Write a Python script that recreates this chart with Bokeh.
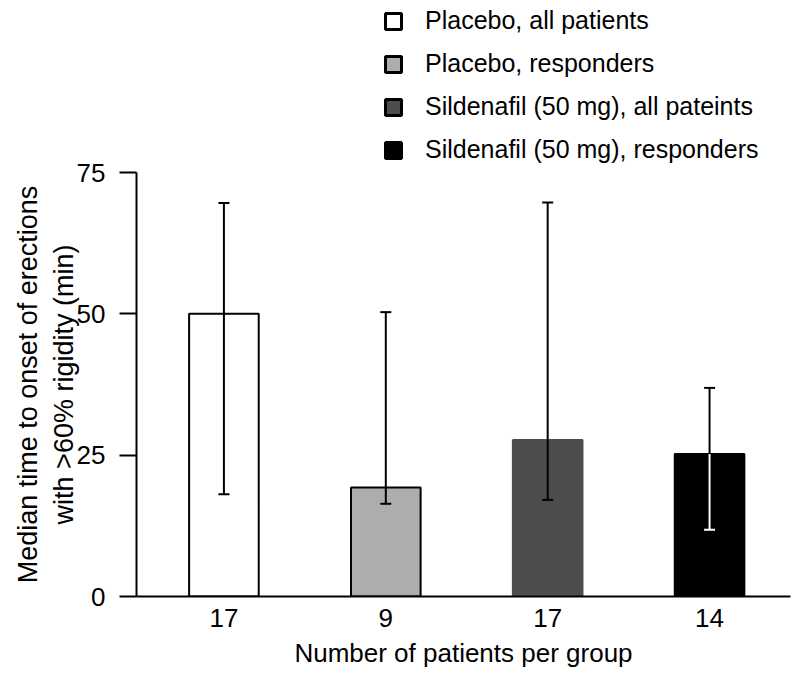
from bokeh.plotting import figure
from bokeh.layouts import column
from bokeh.models import (ColumnDataSource, Legend, LegendItem, Whisker, TeeHead,
                          FixedTicker)
from bokeh.embed import file_html
from bokeh.resources import INLINE

# ---- data ----
groups = ["Placebo, all patients", "Placebo, responders",
          "Sildenafil (50 mg), all pateints", "Sildenafil (50 mg), responders"]
n_patients = ["17", "9", "17", "14"]
median_time = [50.0, 19.3, 27.7, 25.2]
err_lower = [18.1, 16.4, 17.1, 11.8]
err_upper = [69.6, 50.3, 69.7, 36.9]
fill_colors = ["white", "#adadad", "#4d4d4d", "black"]
line_colors = ["black", "black", "#4d4d4d", "black"]
y_ticks = [0, 25, 50, 75]

FONT = "Liberation Sans"

xpos = list(range(1, len(groups) + 1))

# ---------- legend strip (separate figure above the chart) ----------
lg = figure(width=791, height=163, x_range=(0.46, 4.5), y_range=(0, 75),
            output_backend="svg", toolbar_location=None,
            x_axis_location=None, y_axis_location=None,
            min_border_left=136, min_border_right=1, min_border_top=0, min_border_bottom=0)
lg.outline_line_color = None
lg.grid.visible = False
lg_renderers = []
for i in range(len(groups)):
    src = ColumnDataSource(dict(x=[xpos[i]], top=[median_time[i]]))
    r = lg.vbar(x="x", top="top", bottom=0, width=0.43, source=src,
                fill_color=fill_colors[i], line_color="black", line_width=3,
                visible=False)
    lg_renderers.append(r)
legend = Legend(items=[LegendItem(label=g, renderers=[r]) for g, r in zip(groups, lg_renderers)],
                location=(247, -1), orientation="vertical",
                glyph_width=20, glyph_height=20, label_height=20,
                spacing=14, label_standoff=22, padding=0, margin=0,
                border_line_color=None, background_fill_alpha=0,
                label_text_font=FONT, label_text_font_size="25px",
                label_text_color="black")
lg.add_layout(legend, "center")

# ---------- main chart ----------
p = figure(width=791, height=535, x_range=(0.46, 4.5), y_range=(0, 75),
           output_backend="svg", toolbar_location=None,
           min_border_left=136, min_border_top=9, min_border_right=1,
           min_border_bottom=102)
p.outline_line_color = None
p.grid.visible = False

for i in range(len(groups)):
    src = ColumnDataSource(dict(x=[xpos[i]], top=[median_time[i]]))
    p.vbar(x="x", top="top", bottom=0, width=0.43, source=src,
           fill_color=fill_colors[i], line_color=line_colors[i], line_width=2)

# error bars
esrc = ColumnDataSource(dict(x=xpos, lower=err_lower, upper=err_upper))
w = Whisker(base="x", lower="lower", upper="upper", source=esrc,
            line_color="black", line_width=2, level="overlay",
            upper_head=TeeHead(size=11, line_color="black", line_width=2),
            lower_head=TeeHead(size=11, line_color="black", line_width=2))
p.add_layout(w)

# white portion of error bar inside the black bar
wsrc = ColumnDataSource(dict(x=[xpos[3]], lower=[err_lower[3]], upper=[median_time[3]]))
w2 = Whisker(base="x", lower="lower", upper="upper", source=wsrc,
             line_color="white", line_width=2, level="overlay",
             upper_head=None,
             lower_head=TeeHead(size=11, line_color="white", line_width=2))
p.add_layout(w2)

# axes
p.yaxis.ticker = FixedTicker(ticks=y_ticks)
p.yaxis.minor_tick_line_color = None
p.yaxis.major_tick_out = 17
p.yaxis.major_tick_in = 0
p.yaxis.major_tick_line_width = 2
p.yaxis.axis_line_width = 2
p.yaxis.major_label_text_font = FONT
p.yaxis.major_label_text_font_size = "26px"
p.yaxis.major_label_text_color = "black"
p.yaxis.major_label_standoff = 14
p.yaxis.axis_label = "Median time to onset of erections\nwith >60% rigidity (min)"
p.yaxis.axis_label_text_font = FONT
p.yaxis.axis_label_text_font_size = "27px"
p.yaxis.axis_label_text_font_style = "normal"
p.yaxis.axis_label_text_color = "black"
p.yaxis.axis_label_standoff = -5

p.xaxis.ticker = FixedTicker(ticks=xpos)
p.xaxis.major_label_overrides = {x: lab for x, lab in zip(xpos, n_patients)}
p.xaxis.minor_tick_line_color = None
p.xaxis.major_tick_line_color = None
p.xaxis.major_tick_out = 0
p.xaxis.major_tick_in = 0
p.xaxis.axis_line_width = 2
p.xaxis.major_label_text_font = FONT
p.xaxis.major_label_text_font_size = "26px"
p.xaxis.major_label_text_color = "black"
p.xaxis.major_label_standoff = 12
p.xaxis.axis_label = "Number of patients per group"
p.xaxis.axis_label_text_font = FONT
p.xaxis.axis_label_text_font_size = "26px"
p.xaxis.axis_label_text_font_style = "normal"
p.xaxis.axis_label_text_color = "black"
p.xaxis.axis_label_standoff = 8

layout = column(lg, p, spacing=0)
open("out.html", "w").write(file_html(layout, INLINE))
